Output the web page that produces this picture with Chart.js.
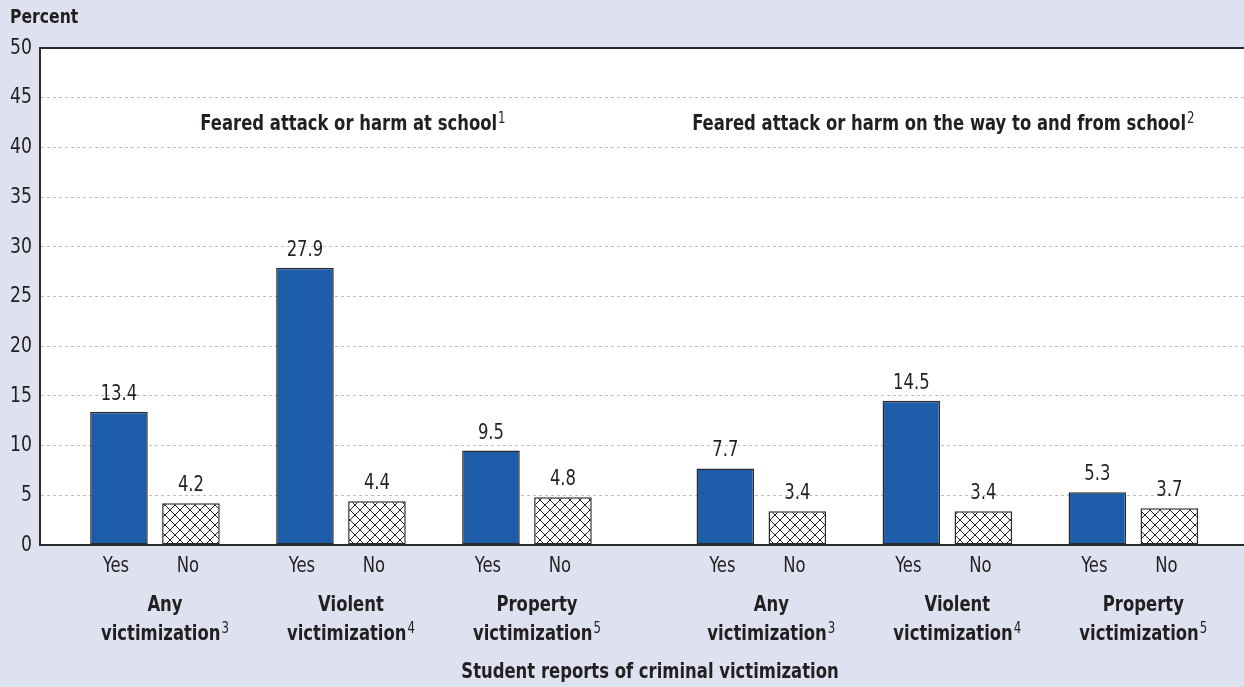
<!DOCTYPE html>
<html>
<head>
<meta charset="utf-8">
<script src="https://cdn.jsdelivr.net/npm/chart.js@4.4.0/dist/chart.umd.min.js"></script>
<style>
  html, body { margin:0; padding:0; background:#dee1f0; }
  #wrap { width:1244px; height:687px; }
</style>
</head>
<body>
<div id="wrap"><canvas id="chart" width="1244" height="687"></canvas></div>
<script>
// data
const panelTitles = ['Feared attack or harm at school', 'Feared attack or harm on the way to and from school'];
const panelNotes = ['1', '2'];
const groupLines = [['Any', 'victimization'], ['Violent', 'victimization'], ['Property', 'victimization'],
                    ['Any', 'victimization'], ['Violent', 'victimization'], ['Property', 'victimization']];
const groupNotes = ['3', '4', '5', '3', '4', '5'];
const seriesNames = ['Yes', 'No'];
const yesValues = [13.4, 27.9, 9.5, 7.7, 14.5, 5.3];
const noValues = [4.2, 4.4, 4.8, 3.4, 3.4, 3.7];
const yTicks = [0, 5, 10, 15, 20, 25, 30, 35, 40, 45, 50];
const yTitle = 'Percent';
const xTitle = 'Student reports of criminal victimization';

// layout / style
const FONT = '"Liberation Sans Narrow", "DejaVu Sans Condensed", "Arial Narrow", sans-serif';
const BG = '#dee1f0';
const INK = '#231f20';
const BLUE = '#1d5ca8';
const SX = 0.87;        // horizontal squeeze to get a condensed look
const panelGap = 0.26;  // extra space between the two panels, in group units
const el = id => document.getElementById(id);

// x position for each group (3 per panel)
const xPos = yesValues.map((v, i) => i + (i >= 3 ? panelGap : 0));

// crosshatch pattern for the "No" bars
function hatch(){
  const c = document.createElement('canvas');
  c.width = 10; c.height = 10;
  const g = c.getContext('2d');
  g.fillStyle = '#fff'; g.fillRect(0, 0, 10, 10);
  g.strokeStyle = '#222'; g.lineWidth = 1;
  g.beginPath();
  g.moveTo(0, 0); g.lineTo(10, 10);
  g.moveTo(10, 0); g.lineTo(0, 10);
  g.stroke();
  return g.createPattern(c, 'repeat');
}

// squeezed text; returns drawn width
function txt(ctx, s, x, y, font, align){
  ctx.font = font;
  const w = ctx.measureText(s).width * SX;
  const x0 = align === 'center' ? x - w / 2 : align === 'right' ? x - w : x;
  ctx.save();
  ctx.translate(x0, y); ctx.scale(SX, 1);
  ctx.textAlign = 'left';
  ctx.fillText(s, 0, 0);
  ctx.restore();
  return w;
}

// bold text with a raised footnote mark, centred on cx
function supText(ctx, s, sup, cx, y, size){
  const bold = `bold ${size}px ${FONT}`, small = `${Math.round(size * 0.7)}px ${FONT}`;
  ctx.font = bold;
  const w1 = ctx.measureText(s).width * SX;
  ctx.font = small;
  const w2 = sup ? ctx.measureText(sup).width * SX + 1 : 0;
  const x0 = cx - (w1 + w2) / 2;
  ctx.textBaseline = 'alphabetic';
  txt(ctx, s, x0, y, bold, 'left');
  if(sup) txt(ctx, sup, x0 + w1 + 1, y - size * 0.33, small, 'left');
}

const deco = {
  id: 'deco',
  beforeDraw(chart){
    const {ctx, chartArea: a} = chart;
    ctx.save();
    ctx.fillStyle = BG; ctx.fillRect(0, 0, chart.width, chart.height);
    ctx.fillStyle = '#fff'; ctx.fillRect(a.left, a.top, a.right - a.left, a.bottom - a.top);
    ctx.restore();
  },
  beforeDatasetsDraw(chart){
    const {ctx, chartArea: a} = chart;
    ctx.save();
    ctx.strokeStyle = '#2b2b2b'; ctx.lineWidth = 2;
    ctx.beginPath();
    ctx.moveTo(a.left, a.top); ctx.lineTo(a.right, a.top);
    ctx.moveTo(a.left, a.bottom); ctx.lineTo(a.right, a.bottom);
    ctx.stroke();
    ctx.restore();
  },
  afterDraw(chart){
    const {ctx, chartArea: a} = chart;
    const yScale = chart.scales.y;
    const yesBars = chart.getDatasetMeta(0).data;
    const noBars = chart.getDatasetMeta(1).data;
    ctx.save();
    ctx.fillStyle = INK;

    // y axis title and tick labels
    ctx.textBaseline = 'middle';
    txt(ctx, yTitle, 10, 18, `bold 20px ${FONT}`, 'left');
    yTicks.forEach(v => txt(ctx, String(v), a.left - 8, yScale.getPixelForValue(v), `22px ${FONT}`, 'right'));

    // value labels
    ctx.textBaseline = 'bottom';
    [yesBars, noBars].forEach((bars, d) => {
      const vals = d === 0 ? yesValues : noValues;
      bars.forEach((b, i) => txt(ctx, vals[i].toFixed(1), b.x, b.y - 7, `21px ${FONT}`, 'center'));
    });

    // Yes / No under each bar
    ctx.textBaseline = 'middle';
    yesBars.forEach((b, i) => {
      txt(ctx, seriesNames[0], b.x - 3, a.bottom + 22, `21px ${FONT}`, 'center');
      txt(ctx, seriesNames[1], noBars[i].x - 3, a.bottom + 22, `21px ${FONT}`, 'center');
    });

    // group labels
    yesBars.forEach((b, i) => {
      const cx = (b.x + noBars[i].x) / 2 + 10;
      supText(ctx, groupLines[i][0], '', cx, a.bottom + 66, 21);
      supText(ctx, groupLines[i][1], groupNotes[i], cx, a.bottom + 95, 21);
    });

    // panel titles
    [0, 1].forEach(p => {
      const first = yesBars[p * 3], last = noBars[p * 3 + 2];
      const left = first.x - first.width / 2, right = last.x + last.width / 2;
      supText(ctx, panelTitles[p], panelNotes[p], (left + right) / 2 + (p === 0 ? 12 : -4), a.top + 82, 21);
    });

    // x axis title
    supText(ctx, xTitle, '', (a.left + a.right) / 2 + 8, a.bottom + 133, 21);
    ctx.restore();
  }
};

Chart.defaults.font.family = FONT;
Chart.defaults.color = INK;

new Chart(el('chart').getContext('2d'), {
  type: 'bar',
  data: {
    datasets: [
      { label: seriesNames[0], data: yesValues.map((v, i) => ({x: xPos[i], y: v})),
        backgroundColor: BLUE, borderColor: '#2b2b2b', borderWidth: 1.5, borderSkipped: false,
        categoryPercentage: 0.774, barPercentage: 0.8 },
      { label: seriesNames[1], data: noValues.map((v, i) => ({x: xPos[i], y: v})),
        backgroundColor: hatch(), borderColor: '#2b2b2b', borderWidth: 1.5, borderSkipped: false,
        categoryPercentage: 0.774, barPercentage: 0.8 }
    ]
  },
  options: {
    responsive: false,
    devicePixelRatio: 1,
    animation: false,
    layout: { padding: { left: 40, right: 0, top: 48, bottom: 142 } },
    plugins: { legend: { display: false }, tooltip: { enabled: false } },
    scales: {
      x: {
        type: 'linear', min: -0.618, max: 5.855, offset: false, display: false,
        afterBuildTicks: s => { s.ticks = xPos.map(v => ({value: v})); }
      },
      y: {
        min: 0, max: 50,
        afterBuildTicks: s => { s.ticks = yTicks.map(v => ({value: v})); },
        afterFit: s => { s.width = 0; },
        ticks: { display: false },
        grid: {
          drawTicks: false,
          color: c => (c.tick && (c.tick.value === 0 || c.tick.value === 50)) ? 'rgba(0,0,0,0)' : '#bdbdbd',
          lineWidth: 1
        },
        border: { display: true, color: '#2b2b2b', width: 2, dash: [3, 3] }
      }
    }
  },
  plugins: [deco]
});
</script>
</body>
</html>
